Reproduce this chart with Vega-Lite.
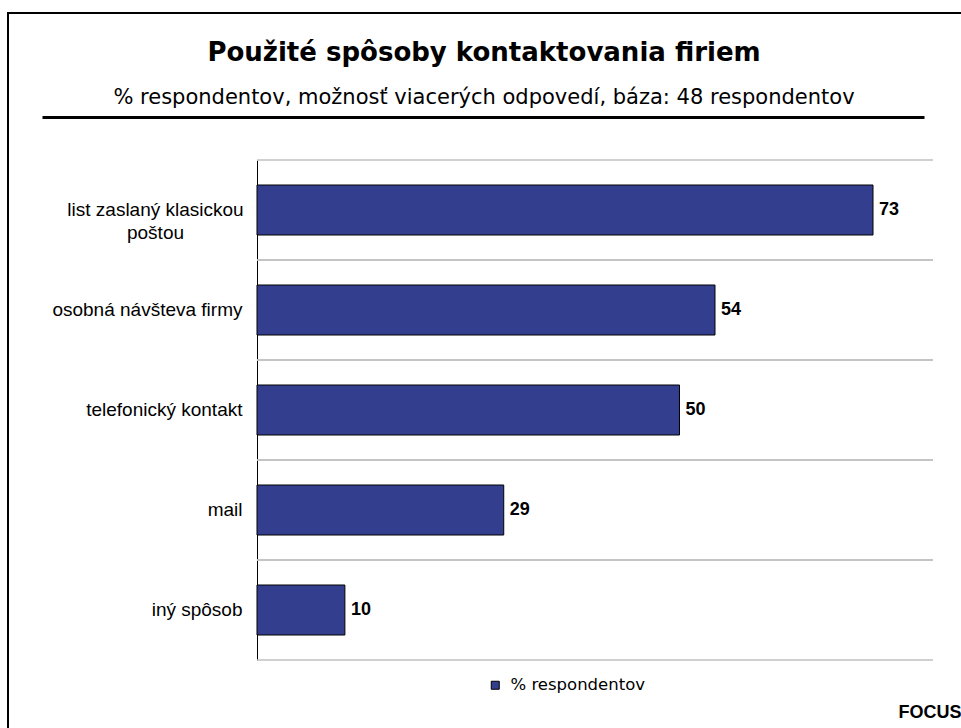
{
  "$schema": "https://vega.github.io/schema/vega-lite/v6.json",
  "autosize": "none",
  "width": 960,
  "height": 725,
  "padding": {"left": 8, "top": 13, "right": -7, "bottom": -10},
  "background": "white",
  "view": {"stroke": "black", "strokeWidth": 2, "fill": "white"},
  "title": {
    "text": "Použité spôsoby kontaktovania firiem",
    "subtitle": "% respondentov, možnosť viacerých odpovedí, báza: 48 respondentov",
    "anchor": "middle",
    "frame": "group",
    "orient": "top",
    "offset": -95,
    "dx": -4,
    "font": "DejaVu Sans",
    "fontSize": 26,
    "fontWeight": "bold",
    "color": "black",
    "subtitleFont": "DejaVu Sans",
    "subtitleFontSize": 21,
    "subtitleFontWeight": "normal",
    "subtitleColor": "black",
    "subtitlePadding": 21
  },
  "data": {
    "values": [
      {"cat": "list zaslaný klasickou poštou", "value": 72.9, "series": "% respondentov"},
      {"cat": "osobná návšteva firmy", "value": 54.2, "series": "% respondentov"},
      {"cat": "telefonický kontakt", "value": 50.0, "series": "% respondentov"},
      {"cat": "mail", "value": 29.2, "series": "% respondentov"},
      {"cat": "iný spôsob", "value": 10.4, "series": "% respondentov"}
    ]
  },
  "encoding": {
    "y": {
      "field": "cat",
      "type": "nominal",
      "sort": null,
      "scale": {"type": "band", "range": [147, 647], "paddingInner": 0, "paddingOuter": 0},
      "axis": {
        "orient": "left",
        "offset": -249,
        "domain": true,
        "domainColor": "black",
        "domainWidth": 1,
        "ticks": false,
        "grid": false,
        "labelFont": "Liberation Sans",
        "labelFontSize": 19,
        "labelColor": "black",
        "labelAlign": {"condition": {"test": "datum.value == 'list zaslaný klasickou poštou'", "value": "center"}, "value": "right"},
        "labelPadding": {"condition": {"test": "datum.value == 'list zaslaný klasickou poštou'", "value": 102}, "value": 15},
        "labelLimit": 400,
        "labelLineHeight": 23,
        "labelExpr": "datum.value == 'list zaslaný klasickou poštou' ? ['list zaslaný klasickou', 'poštou'] : datum.value",
        "title": "FOCUS",
        "titleAngle": 0,
        "titleX": 704,
        "titleY": 704,
        "titleAlign": "right",
        "titleBaseline": "alphabetic",
        "titleFont": "Liberation Sans",
        "titleFontSize": 18,
        "titleFontWeight": "bold",
        "titleColor": "black"
      }
    }
  },
  "layer": [
    {
      "mark": {"type": "rule", "color": "#c0c0c0", "strokeWidth": 1.5},
      "encoding": {
        "x": {"datum": 0, "type": "quantitative"},
        "x2": {"datum": 80},
        "y": {"field": "cat", "type": "nominal", "sort": null, "bandPosition": 0}
      }
    },
    {
      "mark": {"type": "rule", "color": "#c0c0c0", "strokeWidth": 1.5},
      "encoding": {
        "x": {"datum": 0, "type": "quantitative"},
        "x2": {"datum": 80},
        "y": {"field": "cat", "type": "nominal", "sort": null, "bandPosition": 1}
      }
    },
    {
      "mark": {"type": "bar", "height": {"band": 0.5}, "stroke": "black", "strokeWidth": 1},
      "encoding": {
        "x": {
          "field": "value",
          "type": "quantitative",
          "scale": {"domain": [-25.444, 78.935], "range": [34, 916], "nice": false, "zero": false},
          "axis": {
            "orient": "top",
            "offset": -104,
            "domain": true,
            "domainColor": "black",
            "domainWidth": 3,
            "ticks": false,
            "labels": false,
            "grid": false,
            "title": null
          }
        },
        "color": {
          "field": "series",
          "type": "nominal",
          "scale": {"range": ["#343E8E"]},
          "legend": {
            "orient": "none",
            "legendX": 479,
            "legendY": 664,
            "title": null,
            "symbolType": "square",
            "symbolSize": 64,
            "symbolStrokeColor": "black",
            "symbolStrokeWidth": 1,
            "labelFont": "DejaVu Sans",
            "labelFontSize": 16.5,
            "labelColor": "black",
            "labelOffset": 7
          }
        }
      }
    },
    {
      "mark": {"type": "text", "align": "left", "baseline": "middle", "dx": 6, "font": "Liberation Sans", "fontSize": 18, "fontWeight": "bold", "color": "black"},
      "encoding": {
        "x": {"field": "value", "type": "quantitative"},
        "text": {"field": "value", "type": "quantitative", "format": ".0f"}
      }
    }
  ]
}
